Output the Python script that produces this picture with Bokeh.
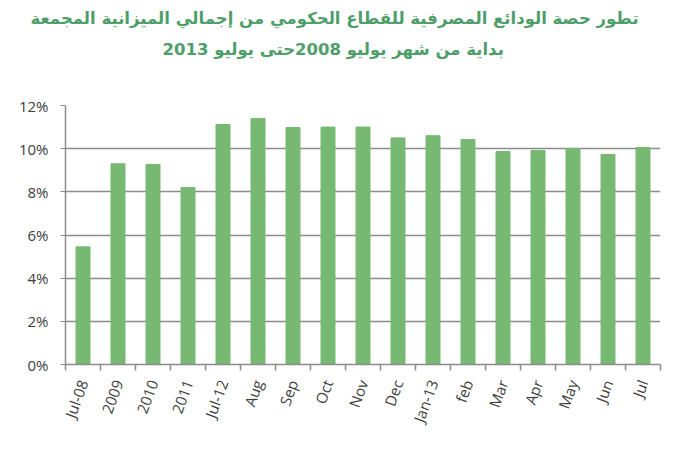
from bokeh.plotting import figure
from bokeh.models import ColumnDataSource, FixedTicker, Title, Range1d
from bokeh.embed import file_html
from bokeh.resources import INLINE

categories = ["Jul-08", "2009", "2010", "2011", "Jul-12", "Aug", "Sep", "Oct", "Nov",
              "Dec", "Jan-13", "feb", "Mar", "Apr", "May", "Jun", "Jul"]
values = [5.45, 9.3, 9.27, 8.2, 11.12, 11.4, 10.98, 11.0, 11.0,
          10.5, 10.6, 10.42, 9.87, 9.92, 10.0, 9.73, 10.05]
y_ticks = [0, 2, 4, 6, 8, 10, 12]
title1 = "تطور حصة الودائع المصرفية للقطاع الحكومي من إجمالي الميزانية المجمعة"
title2 = "بداية من شهر يوليو 2008حتى يوليو 2013"

n = len(categories)
xs = [i + 0.5 for i in range(n)]
src = ColumnDataSource(dict(x=xs, top=values, cat=categories))

p = figure(width=674, height=450, output_backend="svg", toolbar_location=None,
           x_range=Range1d(0, n), y_range=Range1d(0, 12),
           min_border_left=65, min_border_right=14, min_border_top=105, min_border_bottom=86)
p.outline_line_color = None
p.background_fill_color = "white"

p.vbar(x="x", top="top", width=0.4, source=src, color="#77B973")

grid = "#8c8c8c"
p.xgrid.visible = False
p.ygrid.grid_line_color = grid
p.ygrid.grid_line_width = 1.5
p.yaxis.ticker = FixedTicker(ticks=y_ticks)
p.yaxis.major_label_overrides = {t: f"{t}%" for t in y_ticks}
p.yaxis.axis_line_color = grid
p.yaxis.axis_line_width = 1.5
p.yaxis.major_tick_line_color = grid
p.yaxis.major_tick_in = 0
p.yaxis.major_tick_out = 5
p.yaxis.minor_tick_line_color = None
p.yaxis.major_label_text_font = "Open Sans"
p.yaxis.major_label_text_font_size = "15px"
p.yaxis.major_label_text_color = "#404040"
p.yaxis.major_label_standoff = 12

p.xaxis.ticker = FixedTicker(ticks=xs, minor_ticks=list(range(n + 1)))
p.xaxis.major_label_overrides = {x: c for x, c in zip(xs, categories)}
p.xaxis.axis_line_color = grid
p.xaxis.axis_line_width = 1.5
p.xaxis.major_tick_line_color = None
p.xaxis.minor_tick_line_color = grid
p.xaxis.minor_tick_line_width = 1.5
p.xaxis.minor_tick_in = 0
p.xaxis.minor_tick_out = 6
p.xaxis.major_label_orientation = 1.22
p.xaxis.major_label_text_font = "Open Sans"
p.xaxis.major_label_text_font_size = "15px"
p.xaxis.major_label_text_color = "#404040"
p.xaxis.major_label_standoff = 10

tcol = "#4E9E6A"
p.add_layout(Title(text=" ", text_font_size="2px", standoff=38), "above")
p.add_layout(Title(text=title2, align="left", text_font="DejaVu Sans", text_font_size="16.5px",
                   text_font_style="bold", text_color=tcol, standoff=10, offset=97), "above")
p.add_layout(Title(text=title1, align="left", text_font="DejaVu Sans", text_font_size="16.5px",
                   text_font_style="bold", text_color=tcol, standoff=10, offset=-35), "above")

open("out.html", "w").write(file_html(p, INLINE))
